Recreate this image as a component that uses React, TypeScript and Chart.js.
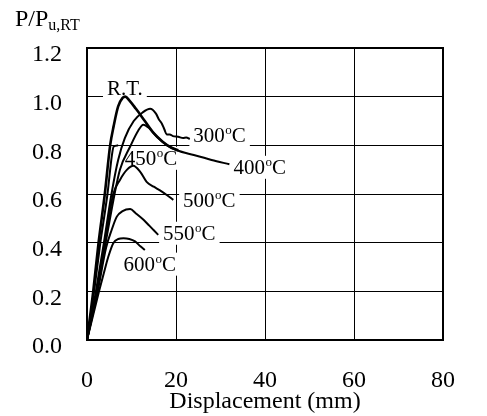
import React, { useEffect, useRef } from "react";
import { Chart, registerables } from "chart.js";

Chart.register(...registerables);

const FONT = "'Times New Roman', 'Liberation Serif', serif";

// Axis ticks
const xTickValues = [0, 20, 40, 60, 80];
const yTickValues = [0, 0.2, 0.4, 0.6, 0.8, 1.0, 1.2];

// Series (displacement mm, P/Pu,RT)
const rtX = [0, 1.4, 2.6, 4.0, 5.2, 6.0, 7.0, 8.0, 8.6, 9.5, 11, 13, 15, 17, 19, 20.5];
const rtY = [0, 0.2, 0.4, 0.6, 0.8, 0.88, 0.96, 0.995, 1.0, 0.985, 0.95, 0.9, 0.85, 0.815, 0.79, 0.78];

const t300X = [0, 2.0, 3.8, 5.5, 7.0, 8.5, 10.5, 12.5, 14.2, 15.5, 16.2, 16.8, 17.4, 17.9, 18.6, 19.3, 20.5, 21.6, 22.3, 23.1];
const t300Y = [0, 0.2, 0.4, 0.6, 0.74, 0.83, 0.9, 0.935, 0.95, 0.93, 0.905, 0.89, 0.865, 0.845, 0.845, 0.838, 0.835, 0.83, 0.832, 0.826];

const t400X = [0, 2.3, 4.2, 6.2, 7.4, 9.7, 11.5, 12.65, 14, 15.7, 18, 20.2, 24, 28, 32];
const t400Y = [0, 0.2, 0.4, 0.6, 0.7, 0.795, 0.86, 0.885, 0.87, 0.835, 0.8, 0.78, 0.76, 0.74, 0.722];

const t450X = [0, 1.6, 3.0, 4.6, 5.6, 6.0, 7.0];
const t450Y = [0, 0.2, 0.4, 0.6, 0.76, 0.795, 0.8];

const t500X = [0, 2.2, 4.0, 5.9, 7.4, 9, 10.4, 12, 13.4, 15, 16.4, 18, 19.4];
const t500Y = [0, 0.2, 0.4, 0.6, 0.658, 0.7, 0.716, 0.69, 0.65, 0.63, 0.615, 0.595, 0.576];

const t550X = [0, 2.4, 4.3, 5.5, 6.7, 8, 9.7, 11, 12.7, 14, 14.9, 16];
const t550Y = [0, 0.2, 0.38, 0.45, 0.507, 0.53, 0.538, 0.52, 0.494, 0.47, 0.453, 0.432];

const t600X = [0, 2.7, 4.0, 4.8, 5.9, 7, 8.2, 9.5, 10.8, 12, 13];
const t600Y = [0, 0.2, 0.29, 0.343, 0.398, 0.415, 0.418, 0.415, 0.405, 0.385, 0.37];

// Curve labels (text, degree flag, anchor in data units: left / baseline)
const labelText = ["R.T.", "300", "400", "450", "500", "550", "600"];
const labelDeg = [false, true, true, true, true, true, true];
const labelX = [4.5, 23.9, 32.9, 8.5, 21.6, 17.1, 8.2];
const labelY = [1.008, 0.812, 0.683, 0.72, 0.547, 0.412, 0.285];

const seriesX = [rtX, t300X, t400X, t450X, t500X, t550X, t600X];
const seriesY = [rtY, t300Y, t400Y, t450Y, t500Y, t550Y, t600Y];

function pts(xs: number[], ys: number[]) {
  return xs.map((x, i) => ({ x, y: ys[i] }));
}

function drawDegLabel(ctx: CanvasRenderingContext2D, text: string, deg: boolean, x: number, y: number, draw: boolean): number {
  ctx.textAlign = "left";
  ctx.textBaseline = "alphabetic";
  ctx.font = `21px ${FONT}`;
  const w1 = ctx.measureText(text).width;
  if (draw) ctx.fillText(text, x, y);
  if (!deg) return w1;
  ctx.font = `13px ${FONT}`;
  const w2 = ctx.measureText("o").width;
  if (draw) ctx.fillText("o", x + w1 + 0.5, y - 8);
  ctx.font = `21px ${FONT}`;
  const w3 = ctx.measureText("C").width;
  if (draw) ctx.fillText("C", x + w1 + w2 + 0.5, y);
  return w1 + w2 + 0.5 + w3;
}

const annotPlugin = {
  id: "annot",
  beforeDatasetsDraw(chart: any) {
    const ctx = chart.ctx as CanvasRenderingContext2D;
    const xs = chart.scales.x;
    const ys = chart.scales.y;
    ctx.save();
    ctx.fillStyle = "#fff";
    labelText.forEach((t, i) => {
      const px = xs.getPixelForValue(labelX[i]);
      const py = ys.getPixelForValue(labelY[i]);
      const w = drawDegLabel(ctx, t, labelDeg[i], px, py, false);
      ctx.fillRect(px - 4, py - 18, w + 8, 23);
    });
    ctx.restore();
  },
  afterDatasetsDraw(chart: any) {
    const ctx = chart.ctx as CanvasRenderingContext2D;
    const xs = chart.scales.x;
    const ys = chart.scales.y;
    const a = chart.chartArea;
    ctx.save();
    ctx.fillStyle = "#000";
    labelText.forEach((t, i) => {
      const px = xs.getPixelForValue(labelX[i]);
      const py = ys.getPixelForValue(labelY[i]);
      drawDegLabel(ctx, t, labelDeg[i], px, py, true);
    });
    // frame
    ctx.strokeStyle = "#000";
    ctx.lineWidth = 2;
    ctx.strokeRect(Math.round(a.left), Math.round(a.top), Math.round(a.right - a.left), Math.round(a.bottom - a.top));
    // y-axis title
    ctx.textAlign = "left";
    ctx.textBaseline = "alphabetic";
    ctx.font = `24px ${FONT}`;
    ctx.fillText("P/P", 15, 26);
    const w = ctx.measureText("P/P").width;
    ctx.font = `16px ${FONT}`;
    ctx.fillText("u,RT", 15 + w, 30);
    ctx.restore();
  },
};

export default function App() {
  const ref = useRef<HTMLCanvasElement | null>(null);
  useEffect(() => {
    if (!ref.current) return;
    const chart = new Chart(ref.current, {
      type: "line",
      data: {
        datasets: seriesX.map((xs, i) => ({
          label: labelText[i],
          data: pts(xs, seriesY[i]),
          borderColor: "#000",
          borderWidth: i === 0 ? 2.6 : 2,
          pointRadius: 0,
          fill: false,
          cubicInterpolationMode: "monotone" as const,
        })),
      },
      options: {
        responsive: false,
        animation: false,
        layout: { padding: { left: 0, top: 48, right: 44, bottom: 0 } },
        plugins: { legend: { display: false }, tooltip: { enabled: false } },
        scales: {
          x: {
            type: "linear",
            min: 0,
            max: 80,
            afterBuildTicks: (s: any) => {
              s.ticks = xTickValues.map((v) => ({ value: v }));
            },
            afterFit: (s: any) => {
              s.height = 76;
            },
            grid: { color: "#000", lineWidth: 1, drawTicks: false },
            border: { display: false },
            ticks: {
              padding: 26,
              color: "#000",
              font: { family: FONT, size: 24 },
              maxRotation: 0,
            },
            title: {
              display: true,
              text: "Displacement (mm)",
              color: "#000",
              font: { family: FONT, size: 24 },
              padding: { top: 0, bottom: 0 },
            },
          },
          y: {
            type: "linear",
            min: 0,
            max: 1.2,
            afterBuildTicks: (s: any) => {
              s.ticks = yTickValues.map((v) => ({ value: v }));
            },
            afterFit: (s: any) => {
              s.width = 87;
            },
            grid: { color: "#000", lineWidth: 1, drawTicks: false },
            border: { display: false },
            ticks: {
              padding: 25,
              color: "#000",
              labelOffset: 7,
              font: { family: FONT, size: 24 },
              callback: (v: any) => Number(v).toFixed(1),
            },
          },
        },
      },
      plugins: [annotPlugin],
    });
    return () => chart.destroy();
  }, []);
  return (
    <div style={{ position: "absolute", left: 0, top: 0, width: 487, height: 416, background: "#fff" }}>
      <canvas ref={ref} width={487} height={416} style={{ display: "block" }} />
    </div>
  );
}
